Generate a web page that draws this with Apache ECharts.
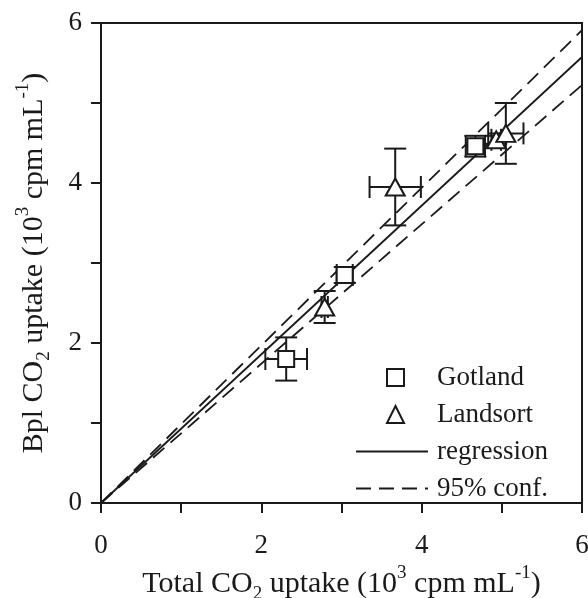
<!DOCTYPE html>
<html>
<head>
<meta charset="utf-8">
<script src="https://cdn.jsdelivr.net/npm/echarts@6/dist/echarts.min.js"></script>
<style>html,body{margin:0;padding:0;background:#fff}#c{width:588px;height:598px}</style>
</head>
<body>
<div id="c"></div>
<script>
// Gotland
const gotlandX = [2.31, 3.04, 4.67];
const gotlandY = [1.80, 2.85, 4.46];
const gotlandXErr = [0.26, 0.10, 0.12];
const gotlandYErr = [0.27, 0.10, 0.13];
// Landsort
const landsortX = [2.79, 3.67, 4.93, 5.05];
const landsortY = [2.45, 3.95, 4.54, 4.62];
const landsortXErr = [0.04, 0.32, 0.06, 0.22];
const landsortYErr = [0.20, 0.48, 0.05, 0.38];
// Regression lines (through origin): value at x = 6
const lineX = [0, 6];
const regressionY = [0, 5.575];
const confUpperY = [0, 5.91];
const confLowerY = [0, 5.225];
const tickValues = [0, 2, 4, 6];

const FONT = '"Liberation Serif", "Times New Roman", serif';
const INK = '#1a1a1a';

function pts(xs, ys) { return xs.map((x, i) => [x, ys[i]]); }
function errData(xs, ys, xe, ye) { return xs.map((x, i) => [x, ys[i], xe[i], ye[i]]); }

function errRender(params, api) {
  const x = api.value(0), y = api.value(1), xe = api.value(2), ye = api.value(3);
  const c = api.coord([x, y]);
  const l = api.coord([x - xe, y]), r = api.coord([x + xe, y]);
  const t = api.coord([x, y + ye]), b = api.coord([x, y - ye]);
  const cap = 11;
  const st = { stroke: INK, lineWidth: 2 };
  const mk = (x1, y1, x2, y2) => ({ type: 'line', shape: { x1, y1, x2, y2 }, style: st });
  return {
    type: 'group',
    children: [
      mk(l[0], c[1], r[0], c[1]),
      mk(l[0], c[1] - cap, l[0], c[1] + cap),
      mk(r[0], c[1] - cap, r[0], c[1] + cap),
      mk(c[0], t[1], c[0], b[1]),
      mk(c[0] - cap, t[1], c[0] + cap, t[1]),
      mk(c[0] - cap, b[1], c[0] + cap, b[1])
    ]
  };
}

const nameRich = {
  a: { fontSize: 30, fontFamily: FONT, color: INK, lineHeight: 40 },
  sub: { fontSize: 19, fontFamily: FONT, color: INK, verticalAlign: 'bottom' },
  sup: { fontSize: 19, fontFamily: FONT, color: INK, verticalAlign: 'top' }
};

const axisCommon = {
  type: 'value', min: 0, max: 6, interval: 2,
  splitLine: { show: false },
  axisLine: { show: true, onZero: false, lineStyle: { color: INK, width: 2 } },
  axisTick: { show: true, inside: false, length: 10, lineStyle: { color: INK, width: 2 } },
  minorTick: { show: true, splitNumber: 2, length: 10, lineStyle: { color: INK, width: 2 } },
  axisLabel: { fontSize: 27, fontFamily: FONT, color: INK,
    formatter: v => tickValues.includes(v) ? String(v) : '' },
  nameLocation: 'middle',
  nameTextStyle: { rich: nameRich }
};

const hiddenDot = { color: 'transparent', borderWidth: 0, opacity: 0 };
const legendText = { fontSize: 27, fontFamily: FONT, color: INK, lineHeight: 27 };

const chart = echarts.init(document.getElementById('c'));
chart.setOption({
  animation: false,
  backgroundColor: '#fff',
  grid: { left: 101, right: 6, top: 23, bottom: 95, outerBoundsMode: 'none', containLabel: false,
    show: true, borderColor: INK, borderWidth: 2, backgroundColor: 'transparent' },
  xAxis: Object.assign({}, axisCommon, {
    name: '{a|Total CO}{sub|2}{a| uptake (10}{sup|3}{a| cpm mL}{sup|-1}{a|)}',
    nameGap: 55,
    axisLabel: Object.assign({}, axisCommon.axisLabel, { margin: 29 })
  }),
  yAxis: Object.assign({}, axisCommon, {
    name: '{a|Bpl CO}{sub|2}{a| uptake (10}{sup|3}{a| cpm mL}{sup|-1}{a|)}',
    nameGap: 47,
    nameRotate: 90,
    axisLabel: Object.assign({}, axisCommon.axisLabel, { margin: 19 })
  }),
  legend: [
    {
      orient: 'vertical', left: 381, top: 359,
      itemWidth: 17, itemHeight: 17, itemGap: 10,
      textStyle: Object.assign({}, legendText, { padding: [0, 0, 0, 28] }),
      data: ['Gotland', 'Landsort']
    },
    {
      orient: 'vertical', left: 350, top: 433,
      itemWidth: 72, itemHeight: 17, itemGap: 10,
      textStyle: Object.assign({}, legendText, { padding: [0, 0, 0, 4] }),
      data: [
        { name: 'regression', itemStyle: hiddenDot },
        { name: '95% conf.', itemStyle: hiddenDot }
      ]
    }
  ],
  series: [
    { name: 'regression', type: 'line', data: pts(lineX, regressionY), symbol: 'none',
      lineStyle: { color: INK, width: 1.8, type: 'solid' }, itemStyle: { color: INK }, z: 2 },
    { name: '95% conf.', type: 'line', data: pts(lineX, confUpperY), symbol: 'none',
      lineStyle: { color: INK, width: 1.8, type: [15, 8] }, itemStyle: { color: INK }, z: 2 },
    { name: '95% conf.', type: 'line', data: pts(lineX, confLowerY), symbol: 'none',
      lineStyle: { color: INK, width: 1.8, type: [15, 8] }, itemStyle: { color: INK }, z: 2 },
    { type: 'custom', renderItem: errRender, data: errData(gotlandX, gotlandY, gotlandXErr, gotlandYErr), z: 3, silent: true },
    { type: 'custom', renderItem: errRender, data: errData(landsortX, landsortY, landsortXErr, landsortYErr), z: 3, silent: true },
    { name: 'Gotland', type: 'scatter', data: pts(gotlandX, gotlandY), symbol: 'rect', symbolSize: 16,
      itemStyle: { color: '#fff', borderColor: INK, borderWidth: 2, opacity: 1 }, z: 5 },
    { name: 'Landsort', type: 'scatter', data: pts(landsortX, landsortY), symbol: 'triangle', symbolSize: [19, 17],
      itemStyle: { color: '#fff', borderColor: INK, borderWidth: 2, opacity: 1 }, z: 5 }
  ]
});
</script>
</body>
</html>
